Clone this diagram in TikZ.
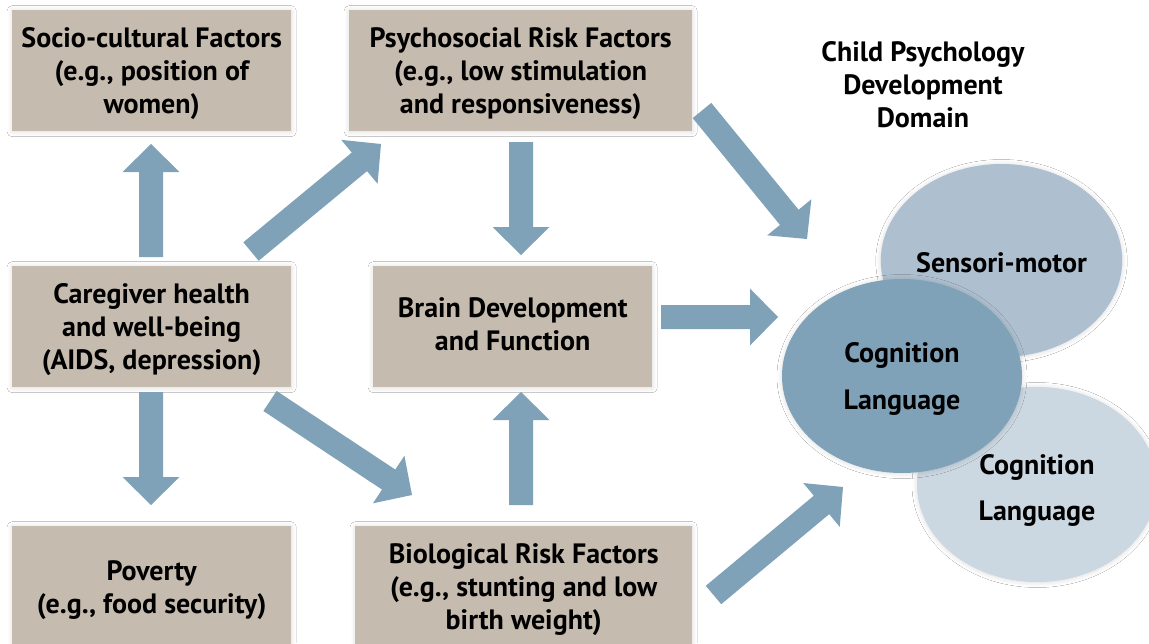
\documentclass[tikz,border=0pt]{standalone}
\usepackage{fontspec}
\setmainfont{PT Sans}
\usetikzlibrary{calc,shapes.geometric,shadows.blur}
\definecolor{boxfill}{HTML}{C6BBAF}
\definecolor{arrowfill}{HTML}{7FA2B8}
\definecolor{ellA}{HTML}{AEBFCF}
\definecolor{ellB}{HTML}{7FA2B8}
\definecolor{ellC}{HTML}{CBD7E1}
\newcommand\blockarrow[2]{%
  \fill[arrowfill] let \p1=($(#2)-(#1)$), \n1={veclen(\x1,\y1)}, \n2={atan2(\y1,\x1)} in
   [shift={(#1)}, rotate=\n2] (0pt,-12pt) -- ({\n1-28pt},-12pt) -- ({\n1-28pt},-28.5pt)
   -- ({\n1+0pt},0pt) -- ({\n1-28pt},28.5pt) -- ({\n1-28pt},12pt) -- (0pt,12pt) -- cycle;}
\newcommand\lowered[2]{\raisebox{-#1}[\height][\depth]{#2}}
\tikzset{
  softshadow/.style={blur shadow={shadow xshift=0pt, shadow yshift=-0.5pt, shadow blur radius=5pt, shadow blur steps=10, shadow opacity=14}},
  factorbox/.style={fill=boxfill, anchor=north west, minimum height=121pt, inner sep=0pt,
    align=center, text=black, text depth=0pt, font=\fontsize{28}{33}\selectfont\bfseries, softshadow},
  dombubble/.style={ellipse, inner sep=0pt, align=center, text=black,
    font=\fontsize{28}{46}\selectfont\bfseries, softshadow},
  ttlstyle/.style={align=center, text=black, font=\fontsize{28}{33}\selectfont\bfseries}
}
\begin{document}
\begin{tikzpicture}[x=1pt,y=-1pt]
\useasboundingbox (0,0) rectangle (1149,643);
\clip (0,0) rectangle (1149,643);
\fill[white] (0,0) rectangle (1149,643);
% boxes
\node[factorbox, minimum width=279pt] (socio) at (12,10) {Socio-cultural Factors\\(e.g., position of\\women)};
\node[factorbox, minimum width=343pt] (psycho) at (349,10) {Psychosocial Risk Factors\\(e.g., low stimulation\\and responsiveness)};
\node[factorbox, minimum width=279pt] (care) at (12,266) {Caregiver health\\and well-being\\(AIDS, depression)};
\node[factorbox, minimum width=279pt, text depth=6pt] (brain) at (373,266) {Brain Development\\and Function};
\node[factorbox, minimum width=279pt] (poverty) at (12,526) {Poverty\\(e.g., food security)};
\node[factorbox, minimum width=337pt] (bio) at (355,526) {Biological Risk Factors\\(e.g., stunting and low\\birth weight)};
% title
\node[ttlstyle] (ttl) at (923,85) {Child Psychology\\Development\\Domain};
% ellipses
\node[dombubble, fill=ellA, minimum width=239pt, minimum height=193pt] (sens) at (1001.5,260.5) {\lowered{2pt}{Sensori-motor}};
\node[dombubble, fill=ellC, minimum width=240pt, minimum height=195pt] (cogB) at (1037,484.5) {\lowered{6pt}{\shortstack{Cognition\\[18pt]Language}}};
\node[dombubble, fill=ellB, minimum width=240pt, minimum height=194pt] (cogA) at (902,376) {\lowered{3pt}{\shortstack{Cognition\\[18pt]Language}}};
% arrow end points
\coordinate (a1s) at (151,257); \coordinate (a1e) at (151,144);
\coordinate (a2s) at (251,251.5); \coordinate (a2e) at (381,144);
\coordinate (a3s) at (521,142); \coordinate (a3e) at (521,255);
\coordinate (a4s) at (661,317); \coordinate (a4e) at (778,317);
\coordinate (a5s) at (702,110.5); \coordinate (a5e) at (807,239);
\coordinate (a6s) at (270,401); \coordinate (a6e) at (412,495);
\coordinate (a7s) at (151,392); \coordinate (a7e) at (151,505);
\coordinate (a8s) at (521,505); \coordinate (a8e) at (521,392);
\coordinate (a9s) at (713.5,595); \coordinate (a9e) at (843,487);
\blockarrow{a1s}{a1e}
\blockarrow{a2s}{a2e}
\blockarrow{a3s}{a3e}
\blockarrow{a4s}{a4e}
\blockarrow{a5s}{a5e}
\blockarrow{a6s}{a6e}
\blockarrow{a7s}{a7e}
\blockarrow{a8s}{a8e}
\blockarrow{a9s}{a9e}
\end{tikzpicture}
\end{document}
